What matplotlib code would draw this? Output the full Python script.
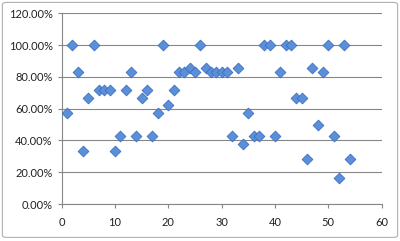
import matplotlib.pyplot as plt
from matplotlib.patches import FancyBboxPatch
from matplotlib.ticker import PercentFormatter

# fraction values per item
items = list(range(1, 55))
share = [57.14, 100, 83.33, 33.33, 66.67, 100, 71.43, 71.43, 71.43, 33.33,
         42.86, 71.43, 83.33, 42.86, 66.67, 71.43, 42.86, 57.14, 100, 62.5,
         71.43, 83.33, 83.33, 85.71, 83.33, 100, 85.71, 83.33, 83.33, 83.33,
         83.33, 42.86, 85.71, 37.5, 57.14, 42.86, 42.86, 100, 100, 42.86,
         83.33, 100, 100, 66.67, 66.67, 28.57, 85.71, 50, 83.33, 100,
         42.86, 16.67, 100, 28.57]
y_ticks = [0, 20, 40, 60, 80, 100, 120]
x_ticks = [0, 10, 20, 30, 40, 50, 60]

plt.rcParams['font.family'] = ['Lato', 'DejaVu Sans']

fig = plt.figure(figsize=(4, 2.41), dpi=100)
fig.patches.append(FancyBboxPatch((0.006, 0.015), 0.988, 0.975,
                                  boxstyle='round,pad=0,rounding_size=0.01',
                                  transform=fig.transFigure, fill=False,
                                  edgecolor='#b0b0b0', linewidth=0.8))
ax = fig.add_axes([0.154, 0.1535, 0.8, 0.7915])

ax.scatter(items, share, marker='D', s=30, color='#5b8fd8',
           edgecolors='#3d6fc2', linewidths=0.6, zorder=3)

ax.set_xlim(0, 60)
ax.set_ylim(0, 120)
ax.set_xticks(x_ticks)
ax.set_yticks(y_ticks)
ax.yaxis.set_major_formatter(PercentFormatter(decimals=2))
ax.grid(axis='y', color='#878787', linewidth=0.8)
ax.set_axisbelow(True)
for s in ['top', 'right']:
    ax.spines[s].set_visible(False)
for s in ['left', 'bottom']:
    ax.spines[s].set_color('#878787')
    ax.spines[s].set_linewidth(0.8)
ax.tick_params(colors='#878787', labelcolor='#222222', labelsize=8,
               length=3, width=0.8)
ax.tick_params(axis='x', pad=6)

fig.savefig('out.png', dpi=100)
